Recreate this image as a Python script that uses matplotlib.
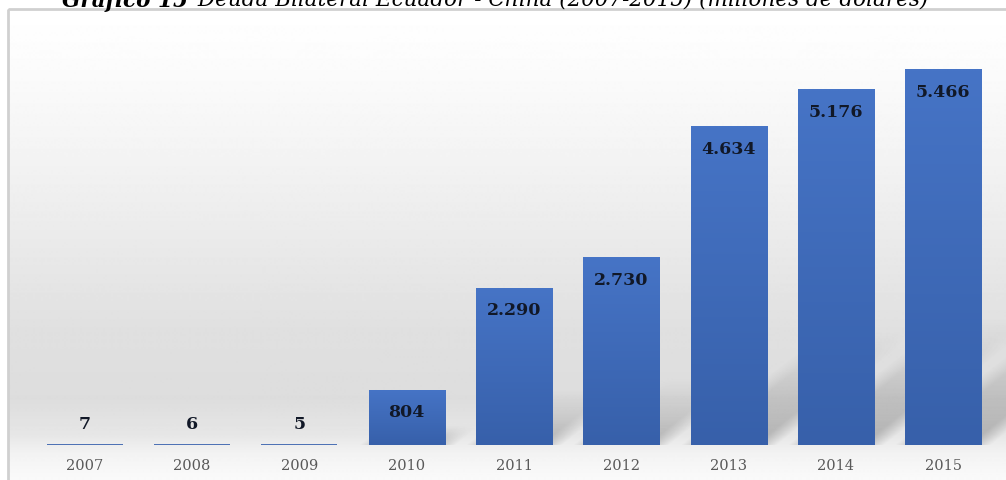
import numpy as np
from matplotlib import pyplot as plt
from matplotlib.patches import Rectangle
from matplotlib.colors import to_rgb

# Data
years = ["2007", "2008", "2009", "2010", "2011", "2012", "2013", "2014", "2015"]
debt = [7, 6, 5, 804, 2290, 2730, 4634, 5176, 5466]
labels = ["7", "6", "5", "804", "2.290", "2.730", "4.634", "5.176", "5.466"]

title_bold = "Gráfico 15"
title_rest = " Deuda Bilateral Ecuador - China (2007-2015) (millones de dólares)"

W, H = 1006, 481
fig = plt.figure(figsize=(W / 100, H / 100), dpi=100)
fig.patch.set_facecolor("white")

# background frame with vertical grey gradient (pixel coordinates)
bg = fig.add_axes([0, 0, 1, 1], zorder=0)
bg.set_xlim(0, W)
bg.set_ylim(H, 0)
bg.axis("off")
ys = np.array([10, 60, 150, 250, 330, 400, 435, 455, 481])
gs = np.array([255, 252, 244, 233, 224, 221, 230, 243, 250]) / 255
yy = np.arange(10, H + 1)
col = np.interp(yy, ys, gs)
grad = np.repeat(col[:, None], 2, axis=1)
bg.imshow(grad, extent=[8, W + 5, H, 10], cmap="gray", vmin=0, vmax=1,
          aspect="auto", interpolation="bilinear")
bg.add_patch(Rectangle((8, 10), W, H, fill=False, edgecolor="#d0d0d0", linewidth=2))

# title, partly cut off at the top like the source
fig.text(0.062, 1 - 7 / H, title_bold, fontsize=15.5, family="DejaVu Serif",
         style="italic", weight="bold", va="baseline", ha="left")
fig.text(0.190, 1 - 7 / H, title_rest, fontsize=15.5, family="DejaVu Serif",
         style="italic", va="baseline", ha="left")

ax = fig.add_axes([31 / W, 1 - 446 / H, 966 / W, 416 / H], zorder=1)
ax.patch.set_alpha(0)
x = np.arange(len(years))
bw = 0.71
ymax = 6049

px_x = 966 / len(years)      # pixels per x unit
px_y = 416 / ymax            # pixels per y unit

# soft shadows falling back-right from each bar (built in pixels)
slope = 0.8
for xi, v in zip(x, debt):
    if v < 100:
        continue
    hp = v * px_y
    lc = 0.45 * hp
    x0 = (xi + 0.5 - bw / 2) * px_x
    x1 = (xi + 0.5 + bw / 2) * px_x
    gx = np.linspace(x0 - 15, x1 + lc + 25, 200)
    gy = np.linspace(0, slope * lc + 20, 120)
    X, Y = np.meshgrid(gx, gy)
    t = Y / (slope * lc)
    w = X - Y / slope
    f = np.clip((w - x0 + 10) / 22, 0, 1) * np.clip((x1 + 10 - w) / 22, 0, 1)
    fade = np.clip(1 - t, 0, 1) ** 1.2
    rgba = np.zeros(X.shape + (4,))
    rgba[..., :3] = 0.2
    rgba[..., 3] = 0.30 * f * fade
    sh = ax.imshow(rgba, extent=[gx[0] / px_x - 0.5, gx[-1] / px_x - 0.5, 0, gy[-1] / px_y],
                   origin="lower", aspect="auto", interpolation="bilinear", zorder=1)
    sh.set_clip_on(False)

# bars with slight vertical gradient
ctop = np.array(to_rgb("#4674c6"))
cbot = np.array(to_rgb("#3760aa"))
bars = ax.bar(x, debt, width=bw, color="#4169b8", zorder=2)
for rect, xi, v, lab in zip(bars, x, debt, labels):
    if v < 100:
        rect.set_edgecolor("#4a6fb4")
        rect.set_linewidth(1.4)
        ax.annotate(lab, (xi, v), xytext=(0, 15), textcoords="offset points",
                    ha="center", va="center", fontsize=12.5, weight="bold",
                    family="DejaVu Serif", color="#111827", zorder=4)
        continue
    tt = np.linspace(0, 1, 100)[:, None, None]
    img = (cbot + (ctop - cbot) * tt).repeat(2, axis=1)
    im = ax.imshow(img, extent=[xi - bw / 2, xi + bw / 2, 0, v], origin="lower",
                   aspect="auto", interpolation="bilinear", zorder=3)
    im.set_clip_path(rect)
    ax.annotate(lab, (xi, v), xytext=(0, -16), textcoords="offset points",
                ha="center", va="center", fontsize=12.5, weight="bold",
                family="DejaVu Serif", color="#111827", zorder=4)

ax.set_xlim(-0.5, len(years) - 0.5)
ax.set_ylim(0, ymax)
ax.set_xticks(x)
ax.set_xticklabels(years, family="DejaVu Serif", fontsize=10.5, color="#595959")
ax.tick_params(axis="x", length=0, pad=9)
ax.set_yticks([])
for s in ax.spines.values():
    s.set_visible(False)

plt.savefig("out.png", dpi=100)
